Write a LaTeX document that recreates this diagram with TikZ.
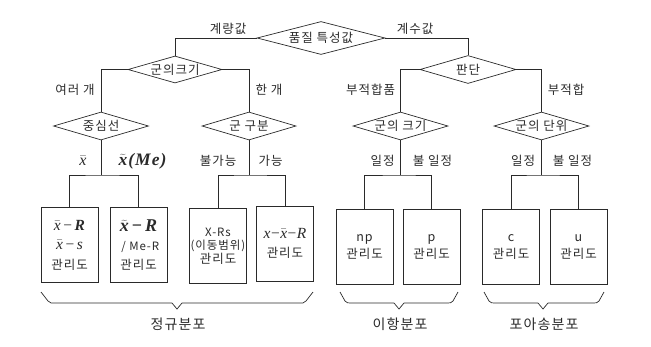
\documentclass[tikz,border=0pt]{standalone}
\usepackage{fontspec}
\setmainfont{Noto Sans CJK KR}[LetterSpace=8]
\newfontfamily\tms{Liberation Serif}
\usetikzlibrary{shapes.geometric}
\definecolor{ink}{HTML}{2A2A2A}
\newcommand{\kfs}[1]{\fontsize{12.5}{#1}\selectfont}
\newcommand{\mfs}[2]{\fontsize{#1}{#2}\selectfont}
\newcommand{\xbar}{$\bar{\hbox{\tms\itshape x}}$}
\newcommand{\xtil}{$\widetilde{\hbox{\tms\bfseries\itshape x}}$}
\newcommand{\mn}{\,{\tms\upshape −}\,}
\tikzset{
  every node/.style={text=ink, font=\fontsize{12.5}{14}\selectfont},
  dia/.style={diamond, draw=ink, line width=0.7pt, inner sep=0pt},
  chart/.style={draw=ink, line width=0.7pt, minimum width=57pt, minimum height=75pt, inner sep=0pt, align=center},
  lab/.style={inner sep=0pt},
  big/.style={inner sep=0pt, font=\fontsize{14}{16}\selectfont},
  conn/.style={draw=ink, line width=0.7pt},
}
\begin{document}
\begin{tikzpicture}[x=1pt,y=-1pt]
\useasboundingbox (0,0) rectangle (651,346);
% diamonds
\node[dia, minimum width=128pt, minimum height=33pt, label={center:품질 특성값}] (q) at (321,38) {};
\node[dia, minimum width=94pt, minimum height=27pt, label={center:군의크기}] (g1) at (175,69.5) {};
\node[dia, minimum width=96pt, minimum height=28pt, label={center:판단}] (pan) at (468,69.5) {};
\node[dia, minimum width=95pt, minimum height=28pt, label={center:중심선}] (c1) at (101,126) {};
\node[dia, minimum width=94pt, minimum height=28pt, label={center:군 구분}] (c2) at (249,126) {};
\node[dia, minimum width=95pt, minimum height=28pt, label={center:군의 크기}] (c3) at (400.5,126) {};
\node[dia, minimum width=95pt, minimum height=28pt, label={center:군의 단위}] (c4) at (541.5,126) {};
% boxes
\node[chart, font=\mfs{15.5}{19.5}] (b1) at (69.5,245) {{\tms\itshape\xbar\mn{\bfseries R}}\\{\tms\itshape\xbar\mn s}\\{\kfs{19.5}관리도}};
\node[chart, font=\mfs{18}{19}] (b2) at (138.5,245) {{\tms\bfseries\itshape\xtil\mn R}\\{\mfs{11.5}{19} / Me-R}\\{\kfs{19}관리도}};
\node[chart, font=\mfs{11.5}{13.5}] (b3) at (218,246) {X-Rs\\(이동범위)\\{\kfs{13.5}관리도}};
\node[chart, font=\mfs{15.5}{19}] (b4) at (285,243.5) {{\tms\itshape x\kern0.5pt{\upshape −}\kern0.5pt\xbar\kern0.5pt{\upshape −}\kern0.5pt R}\\{\kfs{19}관리도}};
\node[chart, font=\kfs{17}] (b5) at (364.5,247) {np\\관리도};
\node[chart, font=\kfs{17}] (b6) at (431.5,247) {p\\관리도};
\node[chart, font=\kfs{17}] (b7) at (511,247) {c\\관리도};
\node[chart, font=\kfs{17}] (b8) at (578.5,247) {u\\관리도};
% junctions
\coordinate (j1) at (101,175);
\coordinate (j2) at (249,175);
\coordinate (j3) at (400.5,175);
\coordinate (j4) at (541.5,175);
% connectors
\draw[conn] (q.west) -| (g1.north);
\draw[conn] (q.east) -| (pan.north);
\draw[conn] (g1.west) -| (c1.north);
\draw[conn] (g1.east) -| (c2.north);
\draw[conn] (pan.west) -| (c3.north);
\draw[conn] (pan.east) -| (c4.north);
\draw[conn] (c1.south) -- (j1);
\draw[conn] (c2.south) -- (j2);
\draw[conn] (c3.south) -- (j3);
\draw[conn] (c4.south) -- (j4);
\draw[conn] (b1.north) |- (j1) -| (b2.north);
\draw[conn] (b3.north) |- (j2) -| (b4.north);
\draw[conn] (b5.north) |- (j3) -| (b6.north);
\draw[conn] (b7.north) |- (j4) -| (b8.north);
% edge labels
\node[lab] (l1) at (228,29) {계량값};
\node[lab] (l2) at (415,29) {계수값};
\node[lab] (l3) at (75,90) {여러 개};
\node[lab] (l4) at (269,90) {한 개};
\node[lab] (l5) at (370.5,90) {부적합품};
\node[lab] (l6) at (566,90) {부적합};
\node[lab, font=\mfs{16}{18}] (l7) at (83,161) {{\tms\itshape\xbar}};
\node[lab, font=\mfs{17.5}{19}] (l8) at (142.5,161) {{\tms\bfseries\itshape\xtil\kern1pt(\kern1pt M\kern1pt e\kern1pt)}};
\node[lab] (l9) at (218,161) {불가능};
\node[lab] (l10) at (270.5,161) {가능};
\node[lab] (l11) at (382.5,161) {일정};
\node[lab] (l12) at (432.5,161) {불 일정};
\node[lab] (l13) at (523,161) {일정};
\node[lab] (l14) at (572.5,161) {불 일정};
% braces
\coordinate (r1a) at (41,292); \coordinate (r1t) at (177,309); \coordinate (r1b) at (313,292);
\draw[conn] (r1a) -- (48,301) to[out=-60,in=180] (55,303) -- (172,303) -- (r1t) -- (182,303) -- (299,303) to[out=0,in=-120] (306,301) -- (r1b);
\coordinate (r2a) at (340,292); \coordinate (r2t) at (399,309); \coordinate (r2b) at (458,292);
\draw[conn] (r2a) -- (345,301) to[out=-60,in=180] (351,303) -- (394,303) -- (r2t) -- (404,303) -- (447,303) to[out=0,in=-120] (453,301) -- (r2b);
\coordinate (r3a) at (484,292); \coordinate (r3t) at (543,309); \coordinate (r3b) at (604,292);
\draw[conn] (r3a) -- (489,301) to[out=-60,in=180] (495,303) -- (538,303) -- (r3t) -- (548,303) -- (593,303) to[out=0,in=-120] (599,301) -- (r3b);
\node[big] (t1) at (178,324) {정규분포};
\node[big] (t2) at (400,324) {이항분포};
\node[big] (t3) at (544,324) {포아송분포};
\end{tikzpicture}
\end{document}
